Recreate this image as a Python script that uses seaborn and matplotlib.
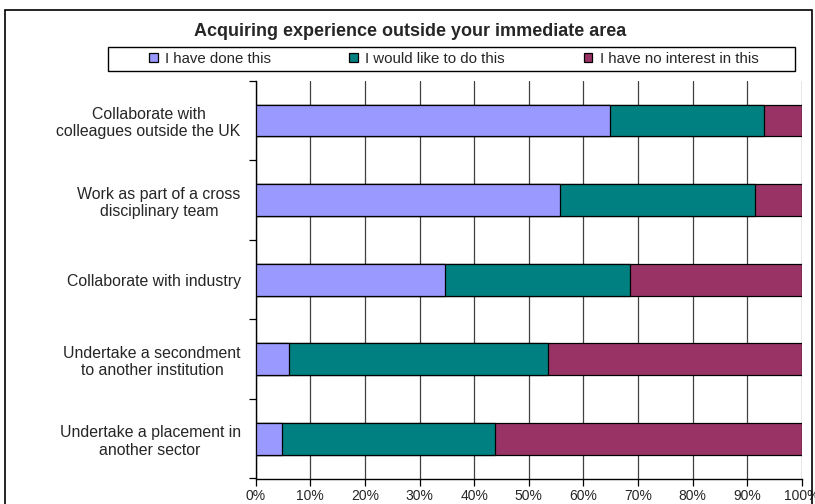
import matplotlib
matplotlib.use("Agg")
import matplotlib.pyplot as plt
from matplotlib.patches import Patch, Rectangle
import numpy as np
import pandas as pd
import seaborn as sns

sns.set_theme(style="white")
plt.rcParams['font.family'] = ['Liberation Sans', 'DejaVu Sans']

categories = ["Collaborate with\ncolleagues outside the UK",
              "Work as part of a cross\ndisciplinary team",
              "Collaborate with industry",
              "Undertake a secondment\nto another institution",
              "Undertake a placement in\nanother sector"]
done = [64.8, 55.7, 34.7, 6.1, 4.8]          # I have done this
like = [28.3, 35.7, 33.8, 47.4, 39.1]        # I would like to do this
no_interest = [6.9, 8.6, 31.5, 46.5, 56.1]   # I have no interest in this
series = ["I have done this", "I would like to do this", "I have no interest in this"]
colors = ["#9999FF", "#008080", "#993366"]

df = pd.DataFrame({"cat": categories, "done": done, "like": like, "none": no_interest})
df["c1"] = df["done"]
df["c2"] = df["done"] + df["like"]
df["c3"] = df["c2"] + df["none"]

W, H = 815, 504
fig = plt.figure(figsize=(W / 100, H / 100), dpi=100)
ax = fig.add_axes([255.7 / W, 1 - 478.5 / H, 546 / W, 397.8 / H])

# stacked bars drawn as overlapping cumulative bars, longest first
for col, c in zip(["c3", "c2", "c1"], colors[::-1]):
    sns.barplot(data=df, y="cat", x=col, orient="h", color=c, width=0.4,
                edgecolor="black", linewidth=0.9, saturation=1, ax=ax, zorder=3)

ax.set_xlim(0, 100)
ax.set_ylim(4.5, -0.5)
ax.set_xlabel("")
ax.set_ylabel("")
ax.set_xticks(np.arange(0, 101, 10))
ax.set_xticklabels([f"{v}%" for v in range(0, 101, 10)], fontsize=10)
ax.xaxis.grid(True, color="#404040", linewidth=0.9, zorder=0)
ax.set_axisbelow(True)
ax.tick_params(axis="x", direction="out", length=5, width=0.9, color="black", pad=2.5, bottom=True)

ax.set_yticks(range(len(categories)))
ax.set_yticklabels(categories, fontsize=11.4, multialignment="center")
ax.set_yticks(np.arange(-0.5, 5, 1), minor=True)
ax.tick_params(axis="y", which="major", length=0, pad=10.8)
ax.tick_params(axis="y", which="minor", direction="out", length=5, width=0.9, color="black", left=True)

for s in ["top", "right"]:
    ax.spines[s].set_visible(False)
for s in ["left", "bottom"]:
    ax.spines[s].set_color("black")
    ax.spines[s].set_linewidth(1.0)

fig.text(410 / W, 1 - 31 / H, "Acquiring experience outside your immediate area",
         ha="center", va="center", fontsize=13, fontweight="bold")

# legend frame and entries
fig.patches.append(Rectangle((108 / W, 1 - 71 / H), 687 / W, 24.3 / H, transform=fig.transFigure,
                             fill=False, edgecolor="black", linewidth=1.0))
for s, c, xm in zip(series, colors, [149.3, 349.3, 584.0]):
    h = Patch(facecolor=c, edgecolor="black", linewidth=0.9, label=s)
    fig.legend(handles=[h], loc="center left", bbox_to_anchor=(xm / W, 1 - 59 / H),
               frameon=False, fontsize=10.8, handlelength=0.55, handleheight=0.55,
               handletextpad=0.5, borderpad=0, borderaxespad=0)

fig.patches.append(Rectangle((5 / W, -0.1), 807 / W, 1.1 - 10 / H, transform=fig.transFigure,
                             fill=False, edgecolor="black", linewidth=1.2))

fig.savefig("out.png", dpi=100, facecolor="white")
